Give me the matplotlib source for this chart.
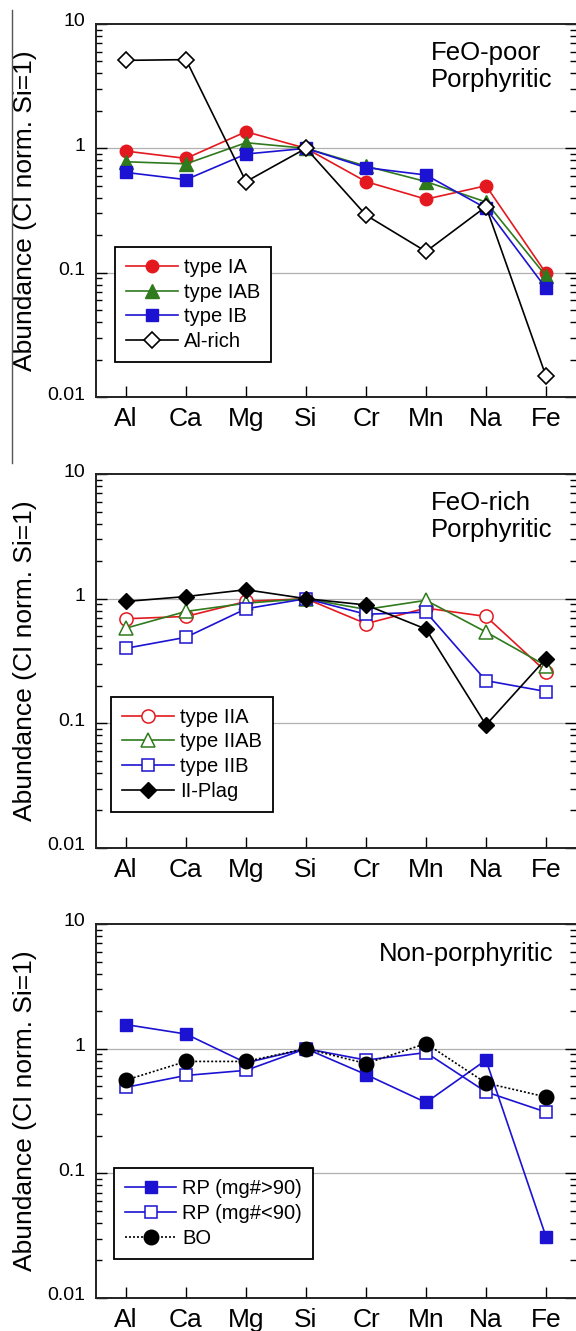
import matplotlib
matplotlib.use("Agg")
import matplotlib.pyplot as plt
from matplotlib.lines import Line2D
from matplotlib.transforms import ScaledTranslation
from matplotlib.ticker import LogLocator, NullFormatter, FixedLocator

plt.rcParams['font.family'] = ['Liberation Sans', 'DejaVu Sans']

elements = ["Al", "Ca", "Mg", "Si", "Cr", "Mn", "Na", "Fe"]

# Panel 1: FeO-poor porphyritic
type_IA = [0.95, 0.83, 1.36, 1.0, 0.54, 0.39, 0.50, 0.099]
type_IAB = [0.78, 0.75, 1.11, 1.0, 0.72, 0.54, 0.37, 0.094]
type_IB = [0.64, 0.56, 0.90, 1.0, 0.70, 0.61, 0.33, 0.075]
al_rich = [5.1, 5.17, 0.54, 1.0, 0.29, 0.148, 0.34, 0.0147]

# Panel 2: FeO-rich porphyritic
type_IIA = [0.69, 0.72, 0.95, 1.0, 0.63, 0.84, 0.72, 0.26]
type_IIAB = [0.58, 0.79, 0.92, 1.0, 0.82, 0.97, 0.54, 0.29]
type_IIB = [0.40, 0.49, 0.83, 1.0, 0.75, 0.78, 0.22, 0.18]
ii_plag = [0.95, 1.04, 1.18, 1.0, 0.89, 0.57, 0.097, 0.33]

# Panel 3: Non-porphyritic
rp_high = [1.56, 1.31, 0.77, 1.0, 0.62, 0.37, 0.81, 0.031]
rp_low = [0.49, 0.61, 0.67, 1.0, 0.81, 0.93, 0.45, 0.31]
bo = [0.56, 0.79, 0.79, 1.0, 0.76, 1.10, 0.53, 0.41]

RED = '#e3191f'
GREEN = '#2f7a1c'
BLUE = '#1c12d2'
BLACK = '#000000'

W, H = 576, 1331
fig = plt.figure(figsize=(W / 100, H / 100), dpi=100)

def px_axes(top, bottom, left=96, right=576):
    return fig.add_axes([left / W, 1 - bottom / H, (right - left) / W, (bottom - top) / H])

panels = [
    dict(top=24, bottom=397, label="FeO-poor\nPorphyritic", lpos=(0.698, 0.955), leg=(0.040, 0.094),
         series=[
             (type_IA, "type IA", dict(color=RED, marker='o', mfc=RED, mec=RED, ms=9, ls='-')),
             (type_IAB, "type IAB", dict(color=GREEN, marker='^', mfc=GREEN, mec=GREEN, ms=10, ls='-')),
             (type_IB, "type IB", dict(color=BLUE, marker='s', mfc=BLUE, mec=BLUE, ms=8.5, ls='-')),
             (al_rich, "Al-rich", dict(color=BLACK, marker='D', mfc='white', mec=BLACK, ms=8, mew=1.2, ls='-')),
         ]),
    dict(top=474, bottom=848, label="FeO-rich\nPorphyritic", lpos=(0.698, 0.955), leg=(0.032, 0.097),
         series=[
             (type_IIA, "type IIA", dict(color=RED, marker='o', mfc='white', mec=RED, ms=9.5, mew=1.1, ls='-')),
             (type_IIAB, "type IIAB", dict(color=GREEN, marker='^', mfc='white', mec=GREEN, ms=10, mew=1.1, ls='-')),
             (type_IIB, "type IIB", dict(color=BLUE, marker='s', mfc='white', mec=BLUE, ms=9, mew=1.1, ls='-')),
             (ii_plag, "II-Plag", dict(color=BLACK, marker='D', mfc=BLACK, mec=BLACK, ms=8, ls='-')),
         ]),
    dict(top=924, bottom=1298, label="Non-porphyritic", lpos=(0.59, 0.952), leg=(0.0375, 0.105),
         series=[
             (rp_high, "RP (mg#>90)", dict(color=BLUE, marker='s', mfc=BLUE, mec=BLUE, ms=9, ls='-')),
             (rp_low, "RP (mg#<90)", dict(color=BLUE, marker='s', mfc='white', mec=BLUE, ms=9, mew=1.1, ls='-')),
             (bo, "BO", dict(color=BLACK, marker='o', mfc=BLACK, mec=BLACK, ms=10.5, ls=(0, (1.2, 1.2)))),
         ]),
]

x = list(range(len(elements)))
shift_up = ScaledTranslation(0, 4 / 100, fig.dpi_scale_trans)

for p in panels:
    ax = px_axes(p['top'], p['bottom'])
    ax.set_yscale('log')
    ax.set_ylim(0.01, 10)
    ax.set_xlim(-0.5, 7.5)
    for yv in (0.1, 1):
        ax.axhline(yv, color='#b0b0b0', lw=0.9, zorder=0)
    for vals, lab, st in p['series']:
        ax.plot(x, vals, lw=1.2, label=lab, clip_on=False, zorder=3, **st)
    ax.xaxis.set_major_locator(FixedLocator(x))
    ax.set_xticklabels(elements, fontsize=19)
    ax.tick_params(axis='x', direction='in', length=8, width=1.0, top=False, pad=7)
    ax.set_yticks([0.01, 0.1, 1, 10])
    ax.yaxis.set_minor_locator(LogLocator(base=10, subs=range(2, 10), numticks=20))
    ax.yaxis.set_minor_formatter(NullFormatter())
    ax.set_yticklabels(["0.01", "0.1", "1", "10"], fontsize=14)
    ax.tick_params(axis='y', which='major', direction='in', length=8, width=1.0, right=True, pad=8)
    ax.tick_params(axis='y', which='minor', direction='in', length=4.5, width=1.0, right=True)
    for lbl in ax.get_yticklabels():
        lbl.set_transform(lbl.get_transform() + shift_up)
    for s in ('left', 'bottom', 'top'):
        ax.spines[s].set_linewidth(1.4)
        ax.spines[s].set_color('#222222')
    ax.spines['right'].set_visible(False)
    ax.set_ylabel("Abundance (CI norm. Si=1)", fontsize=19)
    ax.yaxis.set_label_coords(-(96 - 37) / 480, 0.5)
    ax.text(p['lpos'][0], p['lpos'][1], p['label'], transform=ax.transAxes, ha='left', va='top',
            fontsize=18.5, linespacing=1.15)
    leg = ax.legend(loc='lower left', bbox_to_anchor=p['leg'], fontsize=14.5,
                    frameon=True, fancybox=False, handlelength=2.55, handletextpad=0.3,
                    borderpad=0.55, labelspacing=0.28, borderaxespad=0)
    leg.get_frame().set_edgecolor('black')
    leg.get_frame().set_linewidth(1.3)
    leg.get_frame().set_alpha(1)

# thin page border line at the far left
fig.add_artist(Line2D([12 / W, 12 / W], [1 - 10 / H, 1 - 463 / H], transform=fig.transFigure,
                      color='#555555', lw=1.0))

fig.savefig("out.png", dpi=100)
